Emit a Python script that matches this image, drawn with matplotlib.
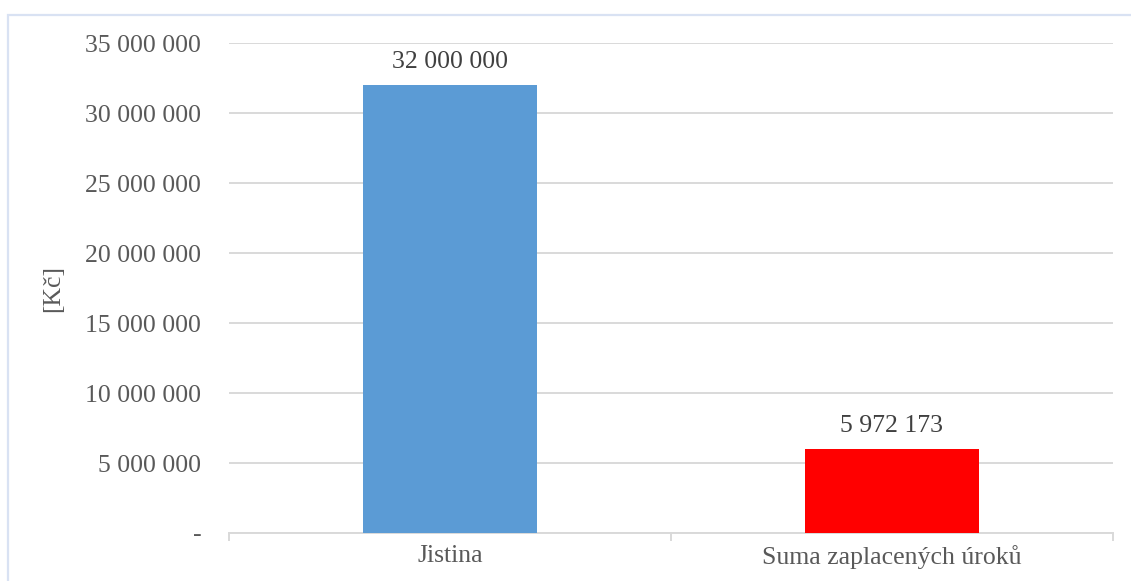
import matplotlib.pyplot as plt
from matplotlib.patches import Rectangle
from matplotlib.ticker import FuncFormatter, FixedLocator

categories = ["Jistina", "Suma zaplacených úroků"]
values = [32000000, 5972173]
bar_colors = ["#5B9BD5", "#FF0000"]
y_ticks = [0, 5000000, 10000000, 15000000, 20000000, 25000000, 30000000, 35000000]


def czk(v, pos=None):
    # accounting style: spaces as thousands separator, dash for zero
    if v == 0:
        return "-"
    return f"{int(round(v)):,}".replace(",", " ")


plt.rcParams["font.family"] = ["Liberation Serif", "DejaVu Serif"]

fig = plt.figure(figsize=(11.31, 5.81), dpi=100)
ax = fig.add_axes([229 / 1131, 48 / 581, (1113 - 229) / 1131, (533 - 43) / 581])

# light outer frame like an Excel chart area
fig.patches.append(Rectangle((7.5 / 1131, -0.05), 1.2, (581 - 14.5) / 581 + 0.05,
                             transform=fig.transFigure, fill=False,
                             edgecolor="#D9E2F3", linewidth=1.6))

x = range(len(categories))
ax.bar(x, values, width=0.394, color=bar_colors, zorder=3)

for xi, v in zip(x, values):
    ax.annotate(czk(v), (xi, v), xytext=(0, 9), textcoords="offset points",
                ha="center", va="bottom", fontsize=18.5, color="#404040")

ax.set_xlim(-0.5, 1.5)
ax.set_ylim(0, 35000000)
ax.yaxis.set_major_locator(FixedLocator(y_ticks))
ax.yaxis.set_major_formatter(FuncFormatter(czk))
ax.grid(axis="y", color="#D9D9D9", linewidth=1.4, zorder=0)

ax.set_xticks(list(x))
ax.set_xticklabels(categories)
ax.set_xticks([-0.5, 0.5, 1.5], minor=True)
ax.tick_params(axis="x", which="major", length=0, pad=9, labelsize=18.5, labelcolor="#595959")
ax.tick_params(axis="x", which="minor", length=6, width=1.4, color="#D9D9D9")
ax.tick_params(axis="y", length=0, pad=20, labelsize=18.5, labelcolor="#595959")

for side in ["top", "right", "left"]:
    ax.spines[side].set_visible(False)
ax.spines["bottom"].set_color("#D9D9D9")
ax.spines["bottom"].set_linewidth(1.4)

ax.set_ylabel("[Kč]", fontsize=18.5, color="#595959")
ax.yaxis.set_label_coords(-165 / 884, 0.5)

fig.savefig("out.png", dpi=100)
